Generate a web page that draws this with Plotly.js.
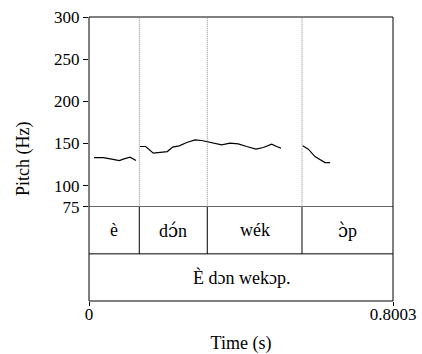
<!DOCTYPE html>
<html>
<head>
<meta charset="utf-8">
<script src="https://cdn.plot.ly/plotly-3.0.1.min.js"></script>
<style>html,body{margin:0;padding:0;background:#fff;}</style>
</head>
<body>
<div id="chart" style="width:422px;height:354px;"></div>
<script>
// Pitch contour (time in s, pitch in Hz); null separates unvoiced gaps
const pitchTime = [0.0132,0.0376,0.0598,0.0798,0.0903,0.1080,0.1237,null,
  0.1342,0.1492,0.1693,0.1869,0.2061,0.2203,0.2377,0.2572,0.2790,0.2967,0.3114,0.3317,0.3493,0.3712,0.3930,0.4151,0.4396,0.4588,0.4809,0.4941,0.5054,null,
  0.5625,0.5773,0.5949,0.6081,0.6212,0.6344];
const pitchHz = [133.3,133.3,131.4,129.7,131.4,133.8,129.7,null,
  146.4,146.4,138.5,139.2,140.4,145.7,147.2,151.1,154.3,153.5,152.0,150.4,148.4,150.4,149.6,146.4,143.3,145.2,149.2,146.4,144.5,null,
  147.2,143.3,134.5,130.6,127.3,127.3];

// TextGrid
const totalDuration = 0.8003;
const wordBoundaries = [0.1324, 0.3114, 0.5607];
const wordLabels = ["è", "d<span style=\"font-family:'DejaVu Serif'\">ɔ́</span>n", "wék", "<span style=\"font-family:'DejaVu Serif'\">ɔ̀</span>p"];
const sentenceLabel = "È dɔn wekɔp.";

const yTickVals = [75, 100, 150, 200, 250, 300];
const xTickVals = [0, totalDuration];
const xTickText = ["0", "0.8003"];
const yTitle = "Pitch (Hz)";
const xTitle = "Time (s)";

const serif = '"Liberation Serif", serif';

const shapes = [];
const annotations = [];
// frame
shapes.push({type:"rect", xref:"paper", yref:"paper", x0:0, x1:1, y0:0, y1:1, line:{color:"#000", width:1}});
// pitch / tier separator and tier separator
shapes.push({type:"line", xref:"paper", yref:"y", x0:0, x1:1, y0:75, y1:75, line:{color:"#000", width:1}});
shapes.push({type:"line", xref:"paper", yref:"y2", x0:0, x1:1, y0:1, y1:1, line:{color:"#000", width:1}});
wordBoundaries.forEach(b => {
  shapes.push({type:"line", xref:"x", yref:"y", x0:b, x1:b, y0:75, y1:300, line:{color:"#888", width:1, dash:"1px,1px"}});
  shapes.push({type:"line", xref:"x", yref:"y2", x0:b, x1:b, y0:1, y1:2, line:{color:"#000", width:1}});
});
const edges = [0, ...wordBoundaries, totalDuration];
wordLabels.forEach((lab, i) => {
  annotations.push({xref:"x", yref:"y2", x:(edges[i]+edges[i+1])/2, y:1.5, text:lab, showarrow:false,
    font:{family:serif, size:18, color:"#000"}});
});
annotations.push({xref:"x", yref:"y2", x:totalDuration/2, y:0.5, text:sentenceLabel, showarrow:false,
  font:{family:serif, size:18, color:"#000"}});
// y title centred on the whole frame (pitch + tiers), as in Praat
annotations.push({xref:"paper", yref:"paper", x:0, y:0.5, xanchor:"center", yanchor:"middle", xshift:-66,
  text:yTitle, textangle:-90, showarrow:false, font:{family:serif, size:18, color:"#000"}});

const data = [{
  x: pitchTime, y: pitchHz, type:"scatter", mode:"lines", xaxis:"x", yaxis:"y",
  line:{color:"#000", width:1.2}, connectgaps:false, hoverinfo:"skip"
}];

const layout = {
  width:422, height:354,
  margin:{l:89, r:29, t:17, b:53},
  paper_bgcolor:"#fff", plot_bgcolor:"#fff",
  showlegend:false,
  font:{family:serif, size:17, color:"#000"},
  xaxis:{range:[0,totalDuration], anchor:"y2", tickvals:xTickVals, ticktext:xTickText,
    ticks:"outside", ticklen:4, tickcolor:"#000", showgrid:false, zeroline:false, showline:false,
    ticklabelstandoff:-6,
    tickfont:{family:serif, size:17, color:"#000"},
    title:{text:xTitle, font:{family:serif, size:18, color:"#000"}, standoff:12}},
  yaxis:{domain:[0.332,1], range:[75,300], tickvals:yTickVals, ticks:"outside", ticklen:5, tickcolor:"#000",
    showgrid:false, zeroline:false, showline:false,
    tickfont:{family:serif, size:17, color:"#000"}},
  yaxis2:{domain:[0,0.332], range:[0,2], visible:false, fixedrange:true},
  shapes: shapes,
  annotations: annotations
};

Plotly.newPlot("chart", data, layout, {staticPlot:true, displayModeBar:false});
</script>
</body>
</html>
